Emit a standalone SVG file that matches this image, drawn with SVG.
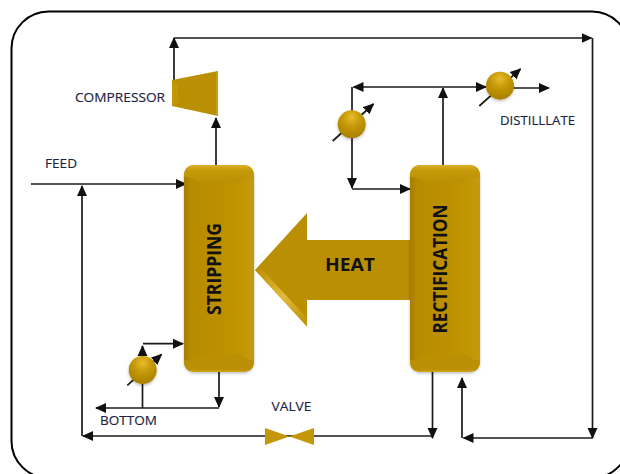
<svg xmlns="http://www.w3.org/2000/svg" xmlns:xlink="http://www.w3.org/1999/xlink" width="620" height="474" viewBox="0 0 620 474">
<style>
.c{fill:none;stroke:#1a1a1a;stroke-width:1.7}
.a{marker-end:url(#arrow)}
.t{font-family:"Open Sans","Liberation Sans",sans-serif;font-size:13px;fill:#1a2340;stroke:#1a2340;stroke-width:0.15}
.b{font-family:"Open Sans","Liberation Sans",sans-serif;font-weight:bold;fill:#111;text-anchor:middle}
</style>
<defs>
<marker id="arrow" markerUnits="userSpaceOnUse" markerWidth="11" markerHeight="11" refX="10" refY="5.500" orient="auto"><path d="M0,0.500 L11,5.500 L0,10.500z" fill="#111"/></marker>
<linearGradient id="body" x1="0" x2="1" y1="0" y2="0"><stop offset="0" stop-color="#a67d00"/><stop offset="0.1" stop-color="#b88c02"/><stop offset="0.5" stop-color="#bb8f03"/><stop offset="1" stop-color="#c49a08"/></linearGradient>
<linearGradient id="topb" x1="0" x2="0" y1="0" y2="1"><stop offset="0" stop-color="#dcb028"/><stop offset="0.3" stop-color="#c59a0a"/><stop offset="1" stop-color="#bb8f03"/></linearGradient>
<linearGradient id="botb" x1="0" x2="0" y1="0" y2="1"><stop offset="0" stop-color="#bb8f03"/><stop offset="0.85" stop-color="#bc9004"/><stop offset="1" stop-color="#d2a71c"/></linearGradient>
<linearGradient id="edge" x1="0" x2="1" y1="0" y2="1"><stop offset="0" stop-color="#bb8f03"/><stop offset="0.5" stop-color="#e3bb3a"/><stop offset="1" stop-color="#bb8f03"/></linearGradient>
<radialGradient id="ball" cx="0.5" cy="0.25" r="0.7"><stop offset="0" stop-color="#e8bc2c"/><stop offset="0.45" stop-color="#c69a08"/><stop offset="1" stop-color="#ac8200"/></radialGradient>
<filter id="sh" x="-20%" y="-20%" width="140%" height="140%"><feDropShadow dx="0" dy="1.500" stdDeviation="1.500" flood-color="#000" flood-opacity="0.25"/></filter>
<g id="col">
<rect width="70" height="207" rx="11" fill="url(#body)" filter="url(#sh)"/>
<path d="M11,0 H59 Q70,0 70,11 V12 L62,13 L52,18 H18 L8,13 L0,12 V11 Q0,0 11,0z" fill="url(#topb)"/>
<path d="M0,195 L5,195 L14,190 H56 L65,195 L70,195 V196 Q70,207 59,207 H11 Q0,207 0,196z" fill="url(#botb)"/>
</g>
<g id="sphere"><circle r="14" fill="url(#ball)" filter="url(#sh)"/></g>
</defs>
<rect id="frame" x="11.500" y="11.500" width="617.500" height="466.500" rx="37" fill="#fff" stroke="#000" stroke-width="2"/>
<g id="heat">
<path d="M255,270 L307,213 V240 H412 V300 H307 V326.500z" fill="#bb8f03"/>
<path d="M255,270 L307,326.500 V318 L263,270.500z" fill="url(#edge)"/>
<text class="b" x="350" y="270.500" font-size="17" textLength="50" lengthAdjust="spacingAndGlyphs">HEAT</text>
</g>
<g id="connectors">
<path class="c a" d="M174,80 V38"/>
<path class="c a" d="M174,38 H591.500"/>
<path class="c a" d="M592.500,38 V438"/>
<path class="c a" d="M592.500,438 H463.500"/>
<path class="c a" d="M462,438 V378"/>
<path class="c a" d="M216,165 V118"/>
<path class="c a" d="M31,184 H186"/>
<path class="c a" d="M82,436 V186"/>
<path class="c a" d="M282,436 H83"/>
<path class="c" d="M282,436 H432.500"/>
<path class="c a" d="M432.500,372 V438"/>
<path class="c a" d="M443,165 V88"/>
<path class="c a" d="M443,87 H353.500"/>
<path class="c a" d="M443,87 H486"/>
<path class="c a" d="M352,87 V188"/>
<path class="c a" d="M352,189 H410"/>
<path class="c a" d="M513,88 H549"/>
<path class="c a" d="M142.500,408 V346"/>
<path class="c a" d="M143,343.700 H183"/>
<path class="c a" d="M219,372 V407"/>
<path class="c a" d="M219,408 H96"/>
</g>
<g id="stripping"><use href="#col" x="184" y="165"/><text class="b" transform="translate(221,269) rotate(-90)" font-size="20" textLength="92" lengthAdjust="spacingAndGlyphs">STRIPPING</text></g>
<g id="rectification"><use href="#col" x="410" y="165"/><text class="b" transform="translate(447,269) rotate(-90)" font-size="20" textLength="129" lengthAdjust="spacingAndGlyphs">RECTIFICATION</text></g>
<g id="compressor"><path d="M172,80 L218,71 V116 L172,106z" fill="#bb8f03"/><path d="M172,80 L178,85 V102 L172,106z" fill="#c29707"/><path d="M218,71 V116 L216,114 V73z" fill="#c8a012"/><text class="t" x="75" y="102" textLength="90" lengthAdjust="spacingAndGlyphs">COMPRESSOR</text></g>
<g id="valve"><path d="M265,428 L289.500,436.500 L265,445z M314,428 L289.500,436.500 L314,445z" fill="#c39708"/><text class="t" x="271.500" y="410.700" textLength="40" lengthAdjust="spacingAndGlyphs">VALVE</text></g>
<g id="feed"><text class="t" x="45" y="168" textLength="32" lengthAdjust="spacingAndGlyphs">FEED</text></g>
<g id="bottom"><text class="t" x="100" y="425" textLength="57" lengthAdjust="spacingAndGlyphs">BOTTOM</text></g>
<g id="distillate"><text class="t" x="500" y="124.700" textLength="75" lengthAdjust="spacingAndGlyphs">DISTILLLATE</text></g>
<g id="condenser-1"><path class="c a" d="M332.700,141 L373.500,104"/><use href="#sphere" x="351.700" y="124.300"/></g>
<g id="condenser-2"><path class="c a" d="M479.300,106 L520.500,69"/><use href="#sphere" x="500" y="85.700"/></g>
<g id="reboiler"><path class="c a" d="M127.300,385.300 L161.500,354.500"/><use href="#sphere" x="142.700" y="370"/></g>
</svg>
